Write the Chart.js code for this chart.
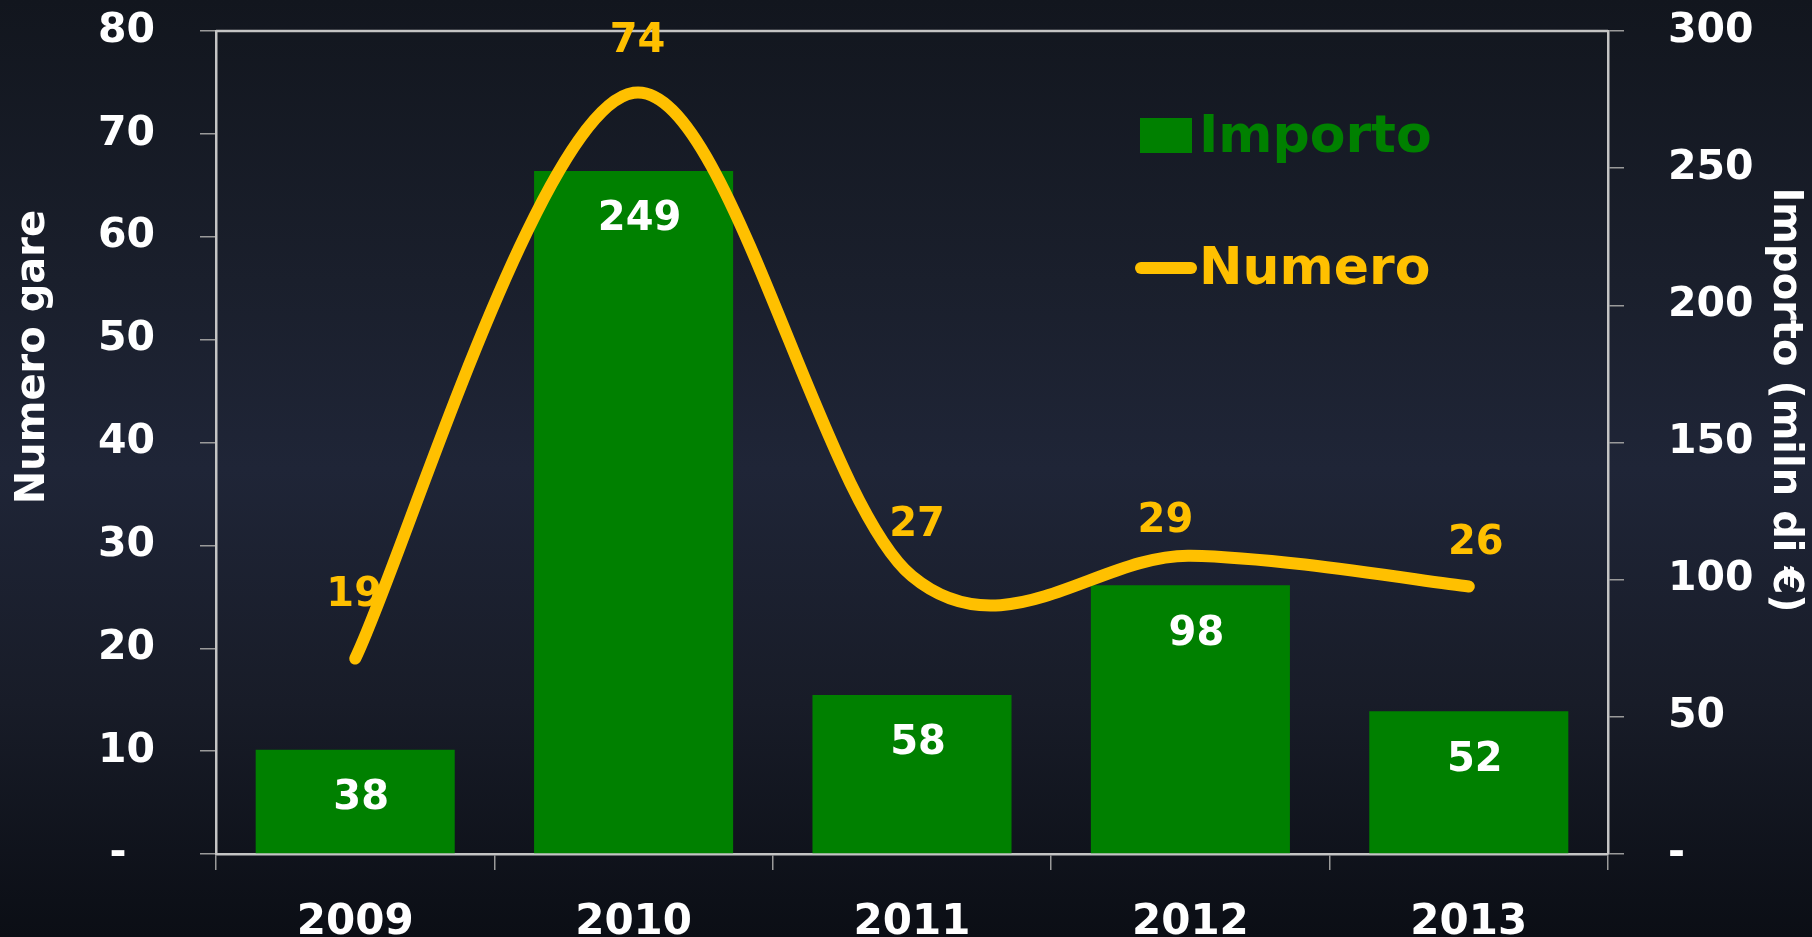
<!DOCTYPE html>
<html>
<head>
<meta charset="utf-8">
<script src="https://cdn.jsdelivr.net/npm/chart.js@4.4.1/dist/chart.umd.min.js"></script>
<style>
  html, body { margin: 0; padding: 0; width: 1812px; height: 937px; overflow: hidden;
    background: linear-gradient(to bottom, #12161e 0%, #1a1f2c 30%, #1f2537 50%, #181c28 75%, #0b0e15 100%); }
  canvas { display: block; }
</style>
</head>
<body>
<canvas id="c" width="1812" height="937"></canvas>
<script>
// ---- data ----
const categories = ['2009', '2010', '2011', '2012', '2013'];
const importoValues = [38, 249, 58, 98, 52];   // mln di €
const numeroValues = [19, 74, 27, 29, 26];     // numero gare
const leftTickLabels = ['-  ', '10', '20', '30', '40', '50', '60', '70', '80'];
const rightTickLabels = ['-', '50', '100', '150', '200', '250', '300'];
const seriesNames = ['Importo', 'Numero'];
const axisTitles = ['Numero gare', 'Importo (miln di €)'];

// ---- styles ----
const GREEN = '#008000';
const YELLOW = '#FFC000';
const FONT = 'DejaVu Sans';
const lineLabelNudge = [[-1, -67], [4, -55], [5, -55], [-25, -38], [7, -47]];

const catmullRom = {
  id: 'catmullRom',
  beforeDatasetDraw(chart, args) {
    const meta = args.meta;
    if (meta.type !== 'line' || !meta.dataset) return;
    meta.dataset.updateControlPoints(chart.chartArea, meta.iScale.axis);
    const pts = meta.data, n = pts.length;
    for (let i = 0; i < n; i++) {
      const p = pts[i], prev = pts[Math.max(i - 1, 0)], next = pts[Math.min(i + 1, n - 1)];
      const tx = (next.x - prev.x) / 6, ty = (next.y - prev.y) / 6;
      p.cp1x = p.x - tx; p.cp1y = p.y - ty;
      p.cp2x = p.x + tx; p.cp2y = p.y + ty;
    }
  }
};

const frame = {
  id: 'frame',
  beforeDatasetsDraw(chart) {
    const { ctx, chartArea: a } = chart;
    ctx.save();
    ctx.strokeStyle = '#c4c4c4';
    ctx.lineWidth = 2.5;
    ctx.beginPath();
    ctx.moveTo(a.left, a.top);
    ctx.lineTo(a.right, a.top);
    ctx.stroke();
    ctx.restore();
  }
};

const labels = {
  id: 'labels',
  afterDatasetsDraw(chart) {
    const ctx = chart.ctx;
    ctx.save();
    ctx.font = 'bold 40px "' + FONT + '"';
    ctx.textAlign = 'center';
    ctx.textBaseline = 'alphabetic';
    const capHalf = 0.3645 * 40;
    // bar labels
    const barMeta = chart.getDatasetMeta(1);
    ctx.fillStyle = '#ffffff';
    barMeta.data.forEach((bar, i) => {
      ctx.fillText(String(importoValues[i]), bar.x + 6, bar.y + 45 + capHalf);
    });
    // line labels
    const lineMeta = chart.getDatasetMeta(0);
    ctx.fillStyle = YELLOW;
    lineMeta.data.forEach((pt, i) => {
      const d = lineLabelNudge[i];
      ctx.fillText(String(numeroValues[i]), pt.x + d[0], pt.y + d[1] + capHalf);
    });
    // axis titles
    ctx.fillStyle = '#ffffff';
    ctx.textBaseline = 'middle';
    ctx.save();
    ctx.translate(34, 357);
    ctx.rotate(-Math.PI / 2);
    ctx.fillText(axisTitles[0], 0, 0);
    ctx.restore();
    ctx.save();
    ctx.translate(1784, 400);
    ctx.rotate(Math.PI / 2);
    ctx.fillText(axisTitles[1], 0, 0);
    ctx.restore();
    // legend
    ctx.font = 'bold 52px "' + FONT + '"';
    ctx.textAlign = 'left';
    ctx.textBaseline = 'alphabetic';
    ctx.fillStyle = GREEN;
    ctx.fillRect(1140, 118, 52, 35);
    ctx.fillText(seriesNames[0], 1199, 152);
    ctx.strokeStyle = YELLOW;
    ctx.lineWidth = 12;
    ctx.lineCap = 'round';
    ctx.beginPath();
    ctx.moveTo(1141, 268);
    ctx.lineTo(1191, 268);
    ctx.stroke();
    ctx.fillStyle = YELLOW;
    ctx.fillText(seriesNames[1], 1199, 284);
    ctx.restore();
  }
};

const tickFont = { family: FONT, size: 41, weight: 'bold' };
const xTickFont = { family: FONT, size: 42, weight: 'bold' };
function fitY(w) { return (s) => { s.width = w; s.paddingTop = 0; s.paddingBottom = 0; }; }

new Chart(document.getElementById('c'), {
  data: {
    labels: categories,
    datasets: [
      {
        type: 'line', label: seriesNames[1], data: numeroValues, yAxisID: 'y',
        borderColor: YELLOW, borderWidth: 12, tension: 0.4,
        borderCapStyle: 'round', borderJoinStyle: 'round',
        pointRadius: 0, pointHoverRadius: 0, fill: false, order: 0
      },
      {
        type: 'bar', label: seriesNames[0], data: importoValues, yAxisID: 'y1',
        backgroundColor: GREEN, borderWidth: 0,
        categoryPercentage: 1.0, barPercentage: 0.715, order: 1
      }
    ]
  },
  options: {
    responsive: false,
    devicePixelRatio: 1,
    animation: false,
    layout: { padding: { top: 31, left: 0, right: 0, bottom: 0 } },
    plugins: { legend: { display: false }, tooltip: { enabled: false } },
    scales: {
      x: {
        position: 'bottom',
        grid: { offset: true, drawOnChartArea: false, drawTicks: true, tickLength: 16, color: '#9a9a9a', lineWidth: 1.5 },
        border: { display: true, color: '#c4c4c4', width: 2.5 },
        ticks: { color: '#ffffff', font: xTickFont, padding: 28, maxRotation: 0 },
        afterFit(s) { s.height = 83; s.paddingLeft = 0; s.paddingRight = 0; }
      },
      y: {
        position: 'left', min: 0, max: 80,
        grid: { drawOnChartArea: false, drawTicks: true, tickLength: 16, color: '#9a9a9a', lineWidth: 1.5 },
        border: { display: true, color: '#c4c4c4', width: 2.5 },
        ticks: { stepSize: 10, color: '#ffffff', font: tickFont, padding: 45,
          callback: (v, i) => leftTickLabels[i] },
        afterFit: fitY(216)
      },
      y1: {
        position: 'right', min: 0, max: 300,
        grid: { drawOnChartArea: false, drawTicks: true, tickLength: 16, color: '#9a9a9a', lineWidth: 1.5 },
        border: { display: true, color: '#c4c4c4', width: 2.5 },
        ticks: { stepSize: 50, color: '#ffffff', font: tickFont, padding: 44,
          callback: (v, i) => rightTickLabels[i] },
        afterFit: fitY(204)
      }
    }
  },
  plugins: [catmullRom, frame, labels]
});
</script>
</body>
</html>
